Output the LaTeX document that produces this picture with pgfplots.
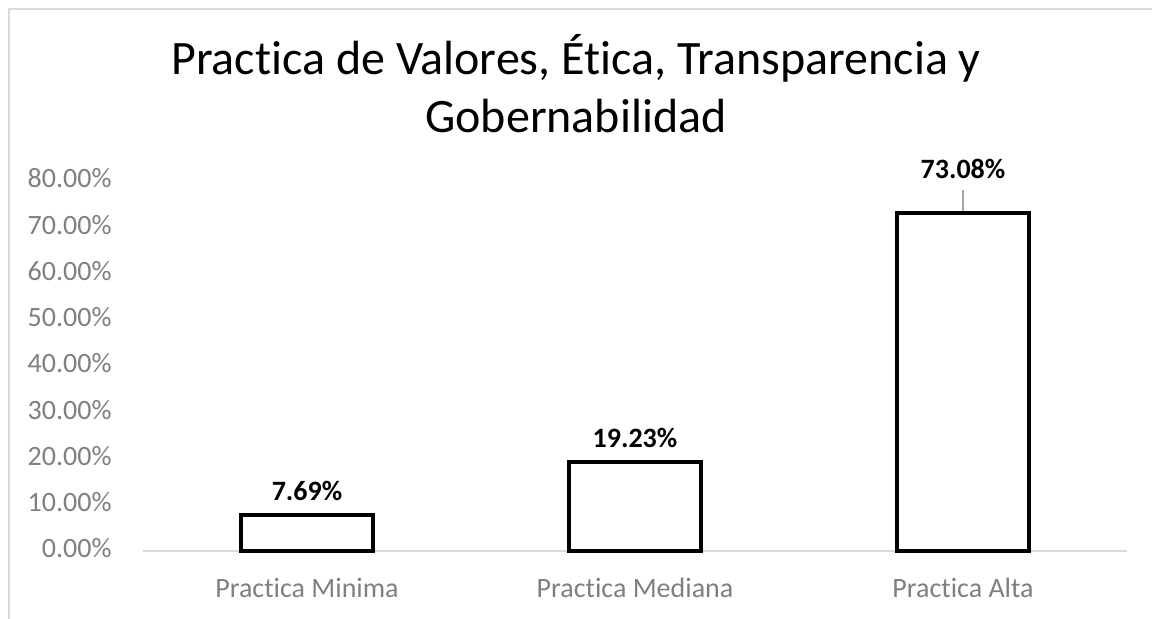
\documentclass[border=0pt]{standalone}
\usepackage{pgfplots}
\pgfplotsset{compat=1.18}
\usepackage{fontspec}
\setmainfont[Ligatures=NoCommon]{Carlito}
\definecolor{tickgray}{HTML}{7F7F7F}
\definecolor{framegray}{HTML}{D9D9D9}
\definecolor{leadergray}{HTML}{A6A6A6}
\begin{document}
\begin{tikzpicture}
\path[use as bounding box] (0,0) rectangle (576bp,309.5bp);
\draw[framegray, line width=1bp] (4.5bp,0) -- (4.5bp,305bp) -- (576bp,305bp);
\node[anchor=base, font=\fontsize{24bp}{29bp}\selectfont] at (288bp,272bp) {Practica de Valores, Ética, Transparencia y};
\node[anchor=base, font=\fontsize{24bp}{29bp}\selectfont] at (288bp,243bp) {Gobernabilidad};
\begin{axis}[
  at={(71.5bp,34bp)}, anchor=south west,
  scale only axis, width=492bp, height=185bp,
  xmin=-0.5, xmax=2.5, ymin=0, ymax=80,
  axis line style={draw=none},
  axis x line*=bottom, axis y line*=left,
  xtick={0,1,2}, xticklabels={Practica Minima, Practica Mediana, Practica Alta},
  ytick={0,10,...,80},
  major tick length=0pt,
  /pgf/number format/assume math mode=true,
  yticklabel={\pgfmathprintnumber[fixed,fixed zerofill,precision=2]{\tick}\%},
  yticklabel style={anchor=base east, inner sep=0pt, xshift=-15.5bp, yshift=-3.5bp, text=tickgray, font=\fontsize{14bp}{16bp}\selectfont},
  xticklabel style={anchor=base, inner sep=0pt, yshift=-23.5bp, text=tickgray, font=\fontsize{14bp}{16bp}\selectfont},
  clip=false,
]
\addplot[framegray, line width=1bp, forget plot] coordinates {(-0.5,0) (2.5,0)};
\addplot[ybar, bar width=66bp, fill=white, draw=black, line width=2bp] coordinates {(0,7.69) (1,19.23) (2,73.08)};
\addplot[draw=none, mark=none, nodes near coords, point meta=explicit symbolic,
  every node near coord/.style={anchor=base, inner sep=0pt, yshift=7.5bp, font=\fontsize{14bp}{16bp}\selectfont\bfseries, text=black}]
  coordinates {(0,7.69) [7.69\%] (1,19.23) [19.23\%]};
\addplot[draw=none, mark=none, nodes near coords, point meta=explicit symbolic,
  every node near coord/.style={anchor=base, inner sep=0pt, yshift=17bp, font=\fontsize{14bp}{16bp}\selectfont\bfseries, text=black}]
  coordinates {(2,73.08) [73.08\%]};
\draw[leadergray, line width=0.75bp] ([yshift=1bp]axis cs:2,73.08) -- ([yshift=11.5bp]axis cs:2,73.08);
\end{axis}
\end{tikzpicture}
\end{document}
